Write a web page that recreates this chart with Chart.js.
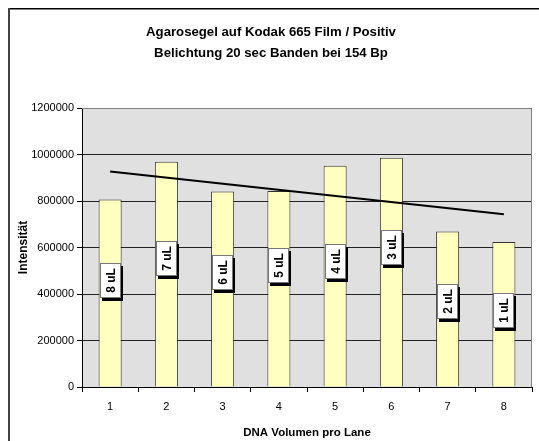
<!DOCTYPE html>
<html><head><meta charset="utf-8">
<script src="https://cdn.jsdelivr.net/npm/chart.js@4/dist/chart.umd.min.js"></script>
<style>html,body{margin:0;padding:0;background:#fff}</style>
</head><body>
<canvas id="c" width="539" height="441"></canvas>
<script>
const lanes = ['1', '2', '3', '4', '5', '6', '7', '8'];
const intensities = [806000, 969000, 841000, 843000, 952000, 986000, 669000, 624000];
const volumeLabels = ['8 uL', '7 uL', '6 uL', '5 uL', '4 uL', '3 uL', '2 uL', '1 uL'];
const labelValues = [460000, 552000, 491000, 523000, 541000, 601000, 367000, 327000];
const trendValues = [927000, null, null, null, null, null, null, 743000];
const titleLines = ['Agarosegel auf Kodak 665 Film / Positiv', 'Belichtung 20 sec Banden bei 154 Bp'];
const xTitle = 'DNA Volumen pro Lane';
const yTitle = 'Intensität';

const FONT = "'Liberation Sans', Arial, sans-serif";

const framePlugin = {
  id: 'frame',
  beforeDraw(chart) {
    const ctx = chart.ctx, a = chart.chartArea;
    ctx.save();
    ctx.fillStyle = '#fff';
    ctx.fillRect(0, 0, chart.width, chart.height);
    ctx.fillStyle = '#e0e0e0';
    ctx.fillRect(a.left, a.top, a.right - a.left, a.bottom - a.top);
    ctx.fillStyle = '#000';
    ctx.fillRect(8, 8, chart.width - 8, 1.5);
    ctx.fillStyle = '#444';
    ctx.fillRect(8, 8, 2, chart.height - 8);
    ctx.restore();
  },
  beforeDatasetsDraw(chart) {
    const ctx = chart.ctx, a = chart.chartArea;
    ctx.save();
    ctx.strokeStyle = '#808080';
    ctx.lineWidth = 1;
    ctx.beginPath();
    ctx.moveTo(a.left, a.top + 0.5);
    ctx.lineTo(a.right - 0.5, a.top + 0.5);
    ctx.lineTo(a.right - 0.5, a.bottom);
    ctx.stroke();
    ctx.restore();
  }
};

const labelPlugin = {
  id: 'volLabels',
  afterDatasetsDraw(chart) {
    const ctx = chart.ctx;
    const meta = chart.getDatasetMeta(1);
    const y = chart.scales.y;
    ctx.save();
    meta.data.forEach((bar, i) => {
      const cx = bar.x;
      const cy = y.getPixelForValue(labelValues[i]);
      const w = 21, h = 35;
      const x0 = Math.round(cx - w / 2), y0 = Math.round(cy - h / 2);
      ctx.fillStyle = '#000';
      ctx.fillRect(x0 + 2, y0 + 3, w, h);
      ctx.fillStyle = '#fff';
      ctx.fillRect(x0, y0, w, h);
      ctx.strokeStyle = '#777';
      ctx.lineWidth = 1;
      ctx.strokeRect(x0 + 0.5, y0 + 0.5, w - 1, h - 1);
      ctx.save();
      ctx.translate(x0 + w / 2, y0 + h / 2);
      ctx.rotate(-Math.PI / 2);
      ctx.fillStyle = '#000';
      ctx.font = "bold 12px " + FONT;
      ctx.textAlign = 'center';
      ctx.textBaseline = 'middle';
      ctx.fillText(volumeLabels[i], 0, 1);
      ctx.restore();
    });
    ctx.restore();
  }
};

new Chart(document.getElementById('c'), {
  data: {
    labels: lanes,
    datasets: [
      {
        type: 'line',
        data: trendValues,
        spanGaps: true,
        borderColor: '#000',
        borderWidth: 2,
        pointRadius: 0,
        order: 0
      },
      {
        type: 'bar',
        data: intensities,
        backgroundColor: '#ffffc0',
        borderColor: '#333',
        borderWidth: 1,
        barPercentage: 0.41,
        categoryPercentage: 1,
        order: 1
      }
    ]
  },
  options: {
    responsive: false,
    animation: false,
    devicePixelRatio: 1,
    layout: { padding: { left: 10, right: 7, top: 0, bottom: 0 } },
    plugins: {
      legend: { display: false },
      tooltip: { enabled: false },
      title: {
        display: true,
        text: titleLines,
        color: '#000',
        font: { family: FONT, size: 13.2, weight: 'bold', lineHeight: '21px' },
        padding: { top: 21.5, bottom: 44.5 }
      }
    },
    scales: {
      x: {
        offset: true,
        grid: { display: true, drawOnChartArea: false, drawTicks: true, tickLength: 5, tickColor: '#000', offset: true },
        border: { color: '#000', width: 1 },
        ticks: { color: '#000', font: { family: FONT, size: 11 }, padding: 8 },
        title: { display: true, text: xTitle, color: '#000', font: { family: FONT, size: 11.5, weight: 'bold' }, padding: { top: 0, bottom: 1 } },
        afterFit(s) { s.height = 54; }
      },
      y: {
        min: 0,
        max: 1200000,
        ticks: { stepSize: 200000, color: '#000', font: { family: FONT, size: 11 }, padding: 3, callback: v => String(v) },
        grid: { color: '#222', tickColor: '#000', tickLength: 5 },
        border: { color: '#000', width: 1 },
        title: { display: true, text: yTitle, color: '#000', font: { family: FONT, size: 12, weight: 'bold' }, padding: { top: 6, bottom: 0 } },
        afterFit(s) { s.width = 72; }
      }
    }
  },
  plugins: [framePlugin, labelPlugin]
});
</script>
</body></html>
